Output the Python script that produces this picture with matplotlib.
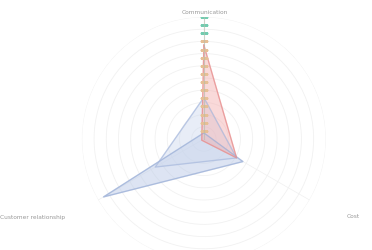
import matplotlib.pyplot as plt
import numpy as np

# indicators (top, bottom-left, bottom-right)
indicators = ['Communication', 'Customer relationship', 'Cost']
max_value = 100

# series values
series_red = [77, 2, 31]
series_light = [34, 46, 31]
series_long = [5, 95, 37]

angles = np.linspace(0, 2 * np.pi, len(indicators), endpoint=False)

fig = plt.figure(figsize=(3.72, 2.50), dpi=100)
ax = fig.add_axes([0.220, -0.044, 0.656, 0.976], projection='polar')
ax.set_theta_offset(np.pi / 2)
ax.set_ylim(0, max_value)

# faint concentric rings
ring_r = np.linspace(max_value / 10, max_value, 10)
theta = np.linspace(0, 2 * np.pi, 200)
for r in ring_r:
    ax.plot(theta, np.full_like(theta, r), color='#f1f1f1', lw=0.6, zorder=1)
ax.grid(False)
ax.spines['polar'].set_visible(False)
ax.set_xticks([])
ax.set_yticks([])

# spokes
for a in angles:
    ax.plot([a, a], [0, max_value], color='#f0f0f0', lw=0.5, zorder=1)


def draw(values, face, edge, alpha):
    v = values + values[:1]
    t = np.concatenate([angles, angles[:1]])
    ax.fill(t, v, color=face, alpha=alpha, zorder=3)
    ax.plot(t, v, color=edge, lw=0.9, alpha=0.7, zorder=4)


draw(series_long, '#bccbe8', '#9aaed6', 0.5)
draw(series_light, '#ccd8ee', '#a8b9dd', 0.45)
draw(series_red, '#f3abab', '#e58a8a', 0.45)

# coloured ticks along the top axis
tick_r = np.linspace(max_value / 15, max_value, 15)
for i, r in enumerate(tick_r):
    c = '#72ccb0' if i >= 12 else '#e6bf95'
    ax.plot([0], [r], marker='_', ms=6, mew=1.0, color=c, zorder=5)
ax.plot([0, 0], [0, max_value], color='#b3bdab', lw=0.8, zorder=5, alpha=0.6)

# indicator names
fig.text(0.551, 0.952, indicators[0], fontsize=4.2, color='#999999', ha='center', va='center')
fig.text(0.175, 0.132, indicators[1], fontsize=4.2, color='#999999', ha='right', va='center')
fig.text(0.933, 0.132, indicators[2], fontsize=4.2, color='#999999', ha='left', va='center')

fig.savefig('out.png', dpi=100, facecolor='white')
